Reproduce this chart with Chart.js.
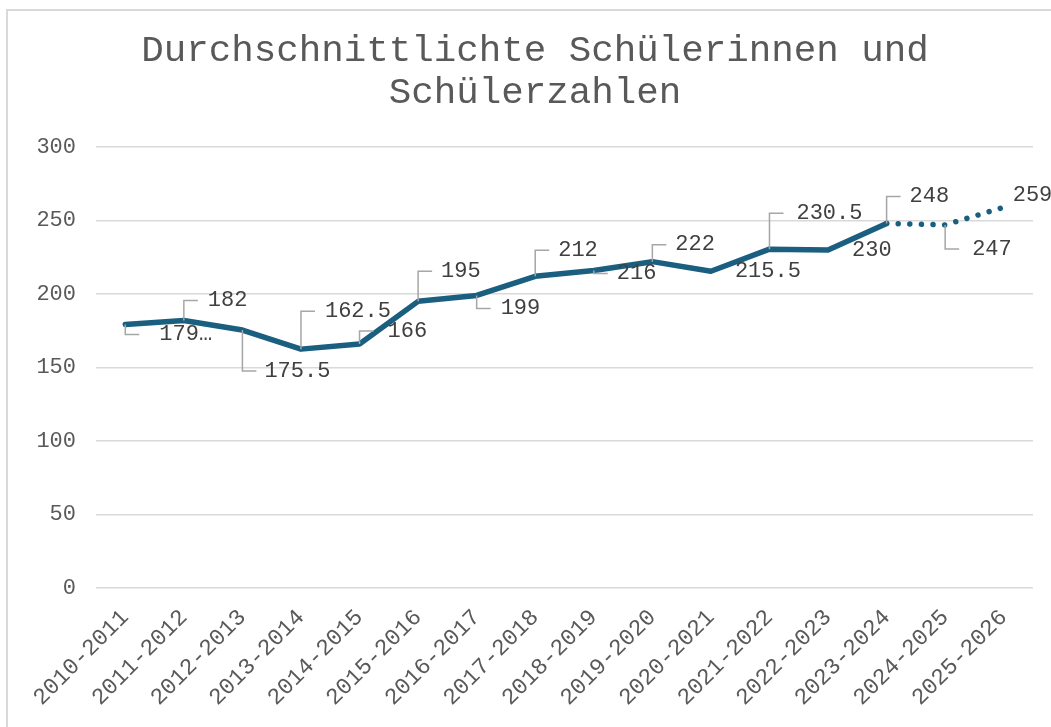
<!DOCTYPE html>
<html lang="de">
<head>
  <meta charset="UTF-8" />
  <title>Schülerzahlen</title>
  <script src="https://cdn.jsdelivr.net/npm/chart.js@4.4.1/dist/chart.umd.min.js"></script>
  <style>
    body { margin: 0; background: #fff; }
    #wrap { position: relative; width: 1051px; height: 727px; }
  </style>
</head>
<body>
  <div id="wrap"><canvas id="myChart"></canvas></div>

  <script>
    // data
    const years = ['2010-2011', '2011-2012', '2012-2013', '2013-2014', '2014-2015', '2015-2016',
      '2016-2017', '2017-2018', '2018-2019', '2019-2020', '2020-2021', '2021-2022',
      '2022-2023', '2023-2024', '2024-2025', '2025-2026'];
    const students = [179.33, 182, 175.5, 162.5, 166, 195, 199, 212, 216, 222, 215.5, 230.5, 230, 248, 247, 259];
    const forecastFrom = 13; // dotted after 2023-2024
    const yMin = 0, yMax = 300, yStep = 50;
    const titleLines = ['Durchschnittlichte Schülerinnen und', 'Schülerzahlen'];

    // where each data label sits relative to its point (px), and if it gets a leader line
    const labelDx = [34, 24, 22, 24, 28, 23, 24, 23, 23, 23, 24, 27, 24, 23, 27, 9];
    const labelDy = [10, -20, 41, -38, -13, -30, 13, -26, 3, -17, 0, -36, 0, -27, 24, -12];
    const labelLeader = [true, true, true, true, true, true, true, true, true, true, false, true, false, true, true, false];

    const mono = "'Liberation Mono', 'DejaVu Sans Mono', monospace";
    const lineColor = '#1a5f80';

    const labelText = (v) => {
      let s = String(v);
      if (s.length > 5) s = s.slice(0, 3) + '\u2026';
      return s;
    };

    const framePlugin = {
      id: 'frame',
      beforeDraw(chart) {
        const ctx = chart.ctx;
        ctx.save();
        ctx.strokeStyle = '#d9d9d9';
        ctx.lineWidth = 2;
        ctx.strokeRect(7, 10, 1200, 900);
        // title
        ctx.fillStyle = '#595959';
        ctx.font = '37.5px ' + mono;
        ctx.textAlign = 'center';
        ctx.textBaseline = 'middle';
        titleLines.forEach((t, i) => ctx.fillText(t, 535, 51 + i * 42));
        ctx.restore();
      }
    };

    const labelPlugin = {
      id: 'callouts',
      afterDatasetsDraw(chart) {
        const ctx = chart.ctx;
        const meta = chart.getDatasetMeta(0);
        ctx.save();
        meta.data.forEach((pt, i) => {
          const ly = pt.y + labelDy[i];
          if (labelLeader[i]) {
            ctx.strokeStyle = '#a6a6a6';
            ctx.lineWidth = 1.5;
            ctx.beginPath();
            ctx.moveTo(pt.x, pt.y);
            ctx.lineTo(pt.x, ly);
            ctx.lineTo(pt.x + 14, ly);
            ctx.stroke();
          }
          ctx.fillStyle = '#404040';
          ctx.font = '22px ' + mono;
          ctx.textAlign = 'left';
          ctx.textBaseline = 'middle';
          ctx.fillText(labelText(students[i]), pt.x + labelDx[i], ly);
        });
        ctx.restore();
      }
    };

    new Chart(document.getElementById('myChart'), {
      type: 'line',
      data: {
        labels: years,
        datasets: [{
          data: students,
          borderColor: lineColor,
          borderWidth: 5.5,
          borderCapStyle: 'round',
          borderJoinStyle: 'round',
          pointRadius: 0,
          tension: 0,
          segment: {
            borderDash: ctx => ctx.p0DataIndex >= forecastFrom ? [0.01, 11.6] : undefined
          }
        }]
      },
      options: {
        responsive: true,
        maintainAspectRatio: false,
        animation: false,
        layout: { padding: { top: 147, right: 18, left: 0, bottom: 0 } },
        plugins: {
          legend: { display: false },
          title: { display: false },
          tooltip: { enabled: false }
        },
        scales: {
          x: {
            offset: true,
            grid: { display: false },
            border: { display: false },
            ticks: {
              color: '#595959',
              font: { family: mono, size: 23 },
              minRotation: 45,
              maxRotation: 45,
              autoSkip: false,
              padding: 8
            },
            afterFit(scale) { scale.height = 139; }
          },
          y: {
            min: yMin,
            max: yMax,
            grid: { color: '#d9d9d9', lineWidth: 1.5, drawTicks: false },
            border: { display: false },
            ticks: {
              stepSize: yStep,
              color: '#595959',
              font: { family: mono, size: 22 },
              padding: 20
            },
            afterFit(scale) { scale.width = 96; }
          }
        }
      },
      plugins: [framePlugin, labelPlugin]
    });
  </script>
</body>
</html>
